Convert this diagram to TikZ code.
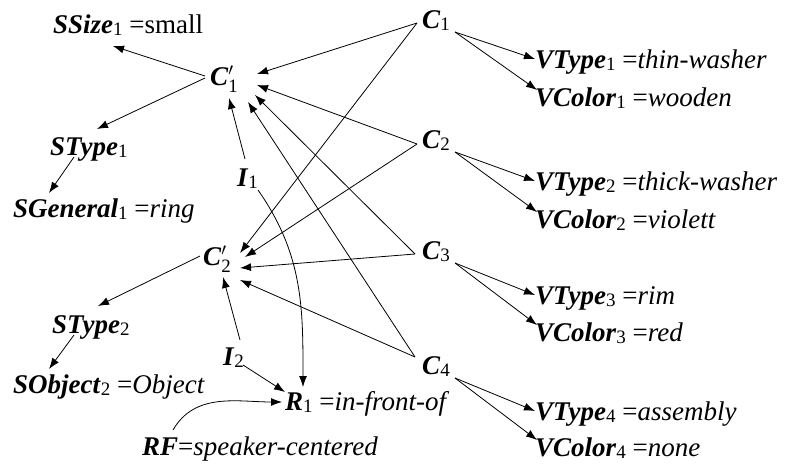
\documentclass[tikz,border=0pt]{standalone}
\usepackage{amsmath}
\usepackage{fontspec}
\setmainfont{Liberation Serif}
\usetikzlibrary{arrows.meta}

% bold italic name with a small upright index
\newcommand{\nm}[2]{\textbf{\textit{#1}}\raisebox{-2pt}{\fontsize{19}{19}\selectfont #2}}
\newcommand{\cpr}[1]{\textbf{\textit{C}}$'_{\text{#1}}$}

\tikzset{
	lbl/.style={anchor=base west,inner sep=0pt,font=\fontsize{27}{32}\selectfont},
	arr/.style={-{Latex[length=11pt,width=8pt]},line width=0.8pt},
}

\begin{document}
\begin{tikzpicture}[x=1pt,y=-1pt]
	\useasboundingbox (0,0) rectangle (791,463);
	%LEFT COLUMN
	\node[lbl] (ssize1) at (53,33) {\nm{SSize}{1} =small};
	\node[lbl] (cp1) at (210,85) {\cpr{1}};
	\node[lbl] (stype1) at (50,155) {\nm{SType}{1}};
	\node[lbl] (sgen1) at (13,217) {\nm{SGeneral}{1} =\textit{ring}};
	\node[lbl] (i1) at (237,186) {\nm{I}{1}};
	%
	\node[lbl] (cp2) at (203,265) {\cpr{2}};
	\node[lbl] (stype2) at (52,333) {\nm{SType}{2}};
	\node[lbl] (sobj2) at (13,393) {\nm{SObject}{2} =\textit{Object}};
	\node[lbl] (i2) at (223,365) {\nm{I}{2}};
	\node[lbl] (r1) at (285,410) {\nm{R}{1} =\textit{in-front-of}};
	\node[lbl] (rf) at (142,455) {\textbf{\textit{RF}}=\textit{speaker-centered}};

	%C NODES AND THEIR VALUES
	\foreach \i/\yc/\yt/\yv/\ty/\co in {1/28/68/106/thin-washer/wooden,
		2/148/190/228/thick-washer/violett, 3/259/304/341/rim/red, 4/374/420/456/assembly/none}{
		\node[lbl] (c\i) at (422,\yc) {\nm{C}{\i}};
		\node[lbl] (vt\i) at (535,\yt) {\nm{VType}{\i} =\textit{\ty}};
		\node[lbl] (vc\i) at (535,\yv) {\nm{VColor}{\i} =\textit{\co}};
		\draw[arr] ([shift={(33,4)}]c\i.base west) -- ([shift={(0,-9)}]vt\i.base west);
		\draw[arr] ([shift={(33,4)}]c\i.base west) -- ([shift={(2,-16)}]vc\i.base west);
	}

	%C TO C'
	\foreach \i/\sx/\sy/\ax/\ay/\bx/\by in {1/-5/-5/47/-11/37/-12, 2/-5/-4/47/0/42/-8,
		3/-7/-5/45/10/37/3, 4/-7/-17/38/17/37/15}{
		\draw[arr] ([shift={(\sx,\sy)}]c\i.base west) -- ([shift={(\ax,\ay)}]cp1.base west);
		\draw[arr] ([shift={(\sx,\sy)}]c\i.base west) -- ([shift={(\bx,\by)}]cp2.base west);
	}

	%C' TO S
	\draw[arr] ([shift={(-5,-9)}]cp1.base west) -- ([shift={(60,13)}]ssize1.base west);
	\draw[arr] ([shift={(-5,-7)}]cp1.base west) -- ([shift={(47,-26)}]stype1.base west);
	\draw[arr] ([shift={(24,2)}]stype1.base west) -- ([shift={(36,-24)}]sgen1.base west);
	\draw[arr] ([shift={(-3,-9)}]cp2.base west) -- ([shift={(46,-27)}]stype2.base west);
	\draw[arr] ([shift={(22,2)}]stype2.base west) -- ([shift={(36,-24)}]sobj2.base west);

	%I AND R
	\draw[arr] ([shift={(8,-27)}]i1.base west) -- ([shift={(19,13)}]cp1.base west);
	\draw[arr] ([shift={(17,-25)}]i2.base west) -- ([shift={(20,12)}]cp2.base west);
	\draw[arr] ([shift={(20,0)}]i2.base west) -- ([shift={(0,-18)}]r1.base west);
	\draw[arr] ([shift={(21,4)}]i1.base west) to[out=-55,in=90] ([shift={(18,-23)}]r1.base west);
	\draw[arr] ([shift={(31,-25)}]rf.base west) to[out=60,in=180] ([shift={(-3,-8)}]r1.base west);
\end{tikzpicture}
\end{document}
